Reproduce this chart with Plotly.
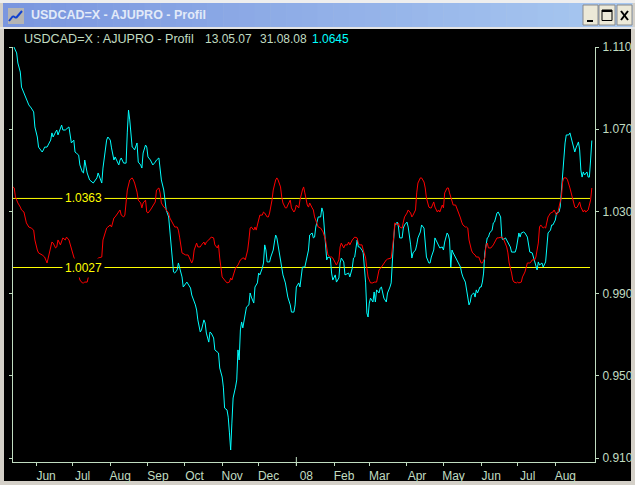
import plotly.graph_objects as go
import pandas as pd

# ---------------- data ----------------
START = pd.Timestamp("2007-05-13")

cyan_days = [0, 3, 4, 6, 7, 9, 10, 13, 15, 17, 18, 20, 21, 24, 25, 26, 28, 31, 32, 33, 35, 36, 37, 39, 40, 41, 43, 46, 47, 48,
             50, 51, 52, 54, 55, 57, 58, 59, 61, 63, 66, 69, 70, 72, 73, 74, 76, 77, 78, 80, 81, 83, 84, 85, 87, 88, 89, 91, 93, 94,
             95, 96, 98, 99, 100, 102, 103, 105, 106, 107, 109, 110, 111, 113, 115, 117, 118, 120, 121, 122, 124, 125, 126, 128, 129, 131, 132, 133, 135, 136,
             137, 139, 140, 143, 146, 147, 150, 151, 152, 154, 155, 157, 158, 159, 161, 162, 163, 165, 166, 169, 170, 172, 173, 174, 176, 177, 178, 179, 180, 181,
             183, 184, 185, 186, 187, 188, 189, 191, 192, 194, 195, 196, 198, 199, 201, 202, 203, 205, 206, 207, 208, 209, 211, 212, 214, 215, 216, 217, 218, 220,
             221, 222, 224, 225, 226, 228, 229, 231, 232, 233, 235, 236, 237, 238, 240, 242, 243, 244, 246, 247, 248, 249, 251, 253, 254, 255, 256, 257, 258, 259,
             261, 262, 263, 265, 266, 268, 269, 270, 272, 273, 275, 276, 277, 279, 280, 281, 283, 284, 285, 287, 288, 290, 291, 292, 293, 294, 296, 297, 298, 299,
             301, 302, 303, 304, 305, 307, 308, 310, 311, 313, 314, 316, 317, 318, 320, 321, 322, 324, 325, 327, 328, 329, 331, 332, 333, 335, 336, 338, 339, 340,
             342, 343, 344, 346, 347, 349, 350, 351, 353, 354, 355, 357, 358, 359, 360, 361, 362, 364, 365, 366, 368, 369, 370, 372, 373, 374, 375, 376, 377, 379,
             380, 381, 382, 384, 385, 386, 387, 388, 390, 391, 392, 394, 395, 396, 398, 399, 401, 402, 403, 405, 406, 407, 409, 410, 413, 414, 416, 417, 418, 420,
             421, 423, 424, 425, 427, 428, 429, 431, 432, 433, 435, 436, 438, 439, 440, 442, 443, 444, 446, 447, 449, 450, 451, 453, 454, 455, 457, 458, 459, 460,
             462, 463, 465, 466, 467, 468, 469, 470, 472, 473, 474, 475, 476]
cyan_vals = [1.1110, 1.1071, 1.1022, 1.0978, 1.0905, 1.0876, 1.0852, 1.0818, 1.0803, 1.0784, 1.0711, 1.0662, 1.0613, 1.0589, 1.0599, 1.0613, 1.0613, 1.0647, 1.0682, 1.0662,
             1.0686, 1.0696, 1.0672, 1.0706, 1.0720, 1.0696, 1.0696, 1.0711, 1.0662, 1.0633, 1.0647, 1.0589, 1.0584, 1.0574, 1.0526, 1.0492, 1.0487, 1.0550, 1.0487, 1.0453,
             1.0438, 1.0463, 1.0487, 1.0453, 1.0438, 1.0511, 1.0613, 1.0647, 1.0662, 1.0647, 1.0609, 1.0550, 1.0565, 1.0550, 1.0526, 1.0550, 1.0560, 1.0535, 1.0535, 1.0686,
             1.0793, 1.0745, 1.0613, 1.0609, 1.0599, 1.0633, 1.0540, 1.0526, 1.0511, 1.0584, 1.0623, 1.0613, 1.0565, 1.0550, 1.0526, 1.0540, 1.0550, 1.0560, 1.0487, 1.0453,
             1.0404, 1.0341, 1.0307, 1.0273, 1.0195, 1.0064, 1.0005, 1.0000, 1.0015, 1.0049, 1.0029, 0.9981, 0.9932, 0.9956, 0.9927, 0.9893, 0.9845, 0.9820, 0.9772, 0.9713,
             0.9723, 0.9772, 0.9757, 0.9708, 0.9664, 0.9713, 0.9708, 0.9684, 0.9626, 0.9611, 0.9538, 0.9494, 0.9445, 0.9343, 0.9334, 0.9299, 0.9222, 0.9139, 0.9270, 0.9392,
             0.9445, 0.9480, 0.9626, 0.9577, 0.9723, 0.9762, 0.9733, 0.9810, 0.9835, 0.9845, 0.9903, 0.9883, 0.9854, 0.9932, 0.9952, 1.0000, 0.9991, 1.0024, 1.0049, 1.0137,
             1.0112, 1.0054, 1.0054, 1.0078, 1.0112, 1.0151, 1.0185, 1.0171, 1.0137, 1.0064, 1.0029, 0.9991, 0.9952, 0.9908, 0.9883, 0.9845, 0.9810, 0.9810, 0.9845, 0.9932,
             0.9952, 0.9932, 0.9991, 1.0029, 1.0029, 1.0078, 1.0112, 1.0185, 1.0195, 1.0171, 1.0175, 1.0224, 1.0273, 1.0273, 1.0317, 1.0297, 1.0209, 1.0146, 1.0064, 1.0078,
             1.0073, 1.0000, 0.9966, 0.9991, 0.9956, 0.9976, 1.0049, 1.0073, 1.0054, 0.9991, 1.0000, 1.0000, 0.9981, 1.0024, 1.0073, 1.0078, 1.0161, 1.0127, 1.0127, 1.0112,
             1.0098, 0.9952, 0.9806, 0.9786, 0.9854, 0.9878, 0.9859, 0.9908, 0.9859, 0.9918, 0.9903, 0.9927, 0.9932, 0.9903, 0.9878, 0.9859, 0.9903, 0.9932, 0.9952, 1.0161,
             1.0234, 1.0248, 1.0224, 1.0171, 1.0171, 1.0219, 1.0234, 1.0248, 1.0224, 1.0137, 1.0073, 1.0098, 1.0112, 1.0137, 1.0171, 1.0200, 1.0234, 1.0219, 1.0146, 1.0078,
             1.0049, 1.0049, 1.0078, 1.0112, 1.0171, 1.0146, 1.0137, 1.0122, 1.0127, 1.0112, 1.0151, 1.0195, 1.0185, 1.0161, 1.0029, 1.0112, 1.0098, 1.0073, 1.0064, 1.0049,
             1.0029, 1.0000, 0.9981, 0.9956, 0.9918, 0.9869, 0.9845, 0.9859, 0.9893, 0.9903, 0.9883, 0.9918, 0.9903, 0.9932, 0.9932, 0.9956, 1.0000, 1.0098, 1.0171, 1.0175,
             1.0195, 1.0209, 1.0244, 1.0248, 1.0292, 1.0297, 1.0273, 1.0171, 1.0161, 1.0171, 1.0161, 1.0146, 1.0127, 1.0102, 1.0102, 1.0122, 1.0195, 1.0175, 1.0195, 1.0200,
             1.0195, 1.0175, 1.0146, 1.0102, 1.0098, 1.0078, 1.0064, 1.0015, 1.0054, 1.0039, 1.0049, 1.0029, 1.0054, 1.0146, 1.0195, 1.0209, 1.0234, 1.0234, 1.0258, 1.0292,
             1.0297, 1.0321, 1.0404, 1.0540, 1.0633, 1.0672, 1.0672, 1.0682, 1.0657, 1.0638, 1.0589, 1.0609, 1.0638, 1.0599, 1.0501, 1.0467, 1.0492, 1.0477, 1.0492, 1.0467,
             1.0467, 1.0550, 1.0645]

red_days = [0, 1, 2, 3, 4, 6, 7, 9, 10, 11, 13, 15, 17, 18, 20, 21, 24, 26, 28, 29, 30, 32, 33, 35, 36, 37, 39, 40, 41, 43,
            44, 46, 47, 48, 50, 51, 52, 54, 55, 57, 58, 59, 61, 62, 63, 66, 69, 70, 73, 74, 76, 77, 78, 80, 81, 83, 84, 85, 87, 88,
            89, 91, 92, 93, 94, 96, 98, 99, 100, 102, 103, 105, 106, 107, 109, 110, 111, 113, 114, 115, 117, 118, 120, 121, 122, 124, 125, 126, 128, 129,
            131, 132, 133, 135, 136, 137, 139, 142, 144, 147, 148, 149, 151, 152, 154, 155, 157, 158, 159, 161, 162, 163, 165, 166, 168, 169, 170, 171, 172, 174,
            175, 176, 178, 179, 180, 182, 183, 185, 186, 187, 189, 190, 191, 193, 194, 195, 196, 198, 199, 200, 202, 203, 205, 206, 207, 209, 210, 211, 213, 214,
            216, 217, 218, 220, 221, 222, 224, 225, 226, 228, 229, 231, 232, 233, 235, 236, 238, 239, 240, 242, 243, 244, 246, 247, 248, 250, 251, 253, 254, 255,
            257, 258, 259, 261, 262, 263, 265, 266, 268, 269, 270, 272, 273, 275, 276, 277, 279, 280, 281, 283, 284, 285, 287, 288, 290, 291, 292, 293, 294, 296,
            297, 299, 300, 301, 303, 304, 305, 307, 308, 310, 311, 313, 314, 316, 317, 318, 320, 321, 322, 324, 325, 327, 328, 329, 331, 332, 333, 335, 336, 338,
            339, 340, 342, 343, 344, 346, 347, 349, 350, 351, 353, 354, 355, 357, 358, 359, 361, 362, 364, 365, 366, 368, 369, 370, 372, 373, 374, 375, 377, 378,
            380, 381, 383, 384, 385, 386, 388, 389, 390, 391, 393, 395, 398, 399, 402, 403, 405, 406, 407, 408, 410, 411, 412, 414, 415, 416, 418, 419, 421, 422,
            423, 425, 426, 427, 429, 430, 432, 433, 434, 436, 437, 438, 440, 441, 442, 444, 445, 447, 448, 449, 451, 452, 453, 455, 456, 458, 459, 460, 462, 463,
            464, 466, 467, 469, 470, 471, 473, 474, 475, 476]
red_vals = [1.0419, 1.0414, 1.0370, 1.0355, 1.0341, 1.0321, 1.0307, 1.0297, 1.0273, 1.0244, 1.0224, 1.0219, 1.0209, 1.0161, 1.0112, 1.0098, 1.0088, 1.0078, 1.0049, 1.0073,
            1.0112, 1.0151, 1.0146, 1.0122, 1.0127, 1.0161, 1.0137, 1.0161, 1.0171, 1.0161, 1.0175, 1.0161, 1.0137, 1.0127, 1.0078, 1.0064, 1.0000, 0.9991, 0.9966, 0.9952,
            0.9952, 0.9956, 0.9956, 0.9981, 1.0064, 1.0064, 1.0064, 1.0073, 1.0078, 1.0161, 1.0195, 1.0219, 1.0224, 1.0234, 1.0224, 1.0268, 1.0273, 1.0282, 1.0297, 1.0307,
            1.0282, 1.0273, 1.0282, 1.0346, 1.0404, 1.0453, 1.0463, 1.0453, 1.0438, 1.0394, 1.0355, 1.0341, 1.0317, 1.0341, 1.0355, 1.0297, 1.0292, 1.0307, 1.0317, 1.0331,
            1.0346, 1.0404, 1.0414, 1.0390, 1.0341, 1.0321, 1.0317, 1.0307, 1.0292, 1.0268, 1.0244, 1.0234, 1.0224, 1.0224, 1.0209, 1.0175, 1.0098, 1.0088, 1.0088, 1.0049,
            1.0064, 1.0112, 1.0146, 1.0127, 1.0127, 1.0137, 1.0151, 1.0137, 1.0151, 1.0161, 1.0171, 1.0175, 1.0171, 1.0137, 1.0122, 1.0137, 1.0073, 1.0024, 0.9981, 0.9966,
            0.9956, 0.9952, 0.9956, 0.9976, 0.9966, 1.0005, 1.0024, 1.0039, 1.0054, 1.0064, 1.0073, 1.0073, 1.0064, 1.0112, 1.0161, 1.0219, 1.0224, 1.0209, 1.0224, 1.0209,
            1.0258, 1.0282, 1.0282, 1.0297, 1.0292, 1.0273, 1.0273, 1.0292, 1.0355, 1.0404, 1.0453, 1.0463, 1.0453, 1.0419, 1.0370, 1.0341, 1.0317, 1.0317, 1.0331, 1.0355,
            1.0317, 1.0297, 1.0307, 1.0331, 1.0317, 1.0355, 1.0404, 1.0419, 1.0390, 1.0331, 1.0321, 1.0341, 1.0317, 1.0307, 1.0273, 1.0234, 1.0224, 1.0219, 1.0209, 1.0200,
            1.0161, 1.0112, 1.0088, 1.0078, 1.0078, 1.0073, 1.0054, 1.0039, 1.0064, 1.0127, 1.0146, 1.0122, 1.0137, 1.0137, 1.0151, 1.0137, 1.0161, 1.0171, 1.0175, 1.0171,
            1.0146, 1.0137, 1.0137, 1.0112, 1.0073, 1.0024, 0.9981, 0.9966, 0.9952, 0.9952, 0.9956, 0.9956, 0.9991, 1.0015, 1.0029, 1.0039, 1.0049, 1.0064, 1.0068, 1.0073,
            1.0073, 1.0171, 1.0244, 1.0234, 1.0244, 1.0224, 1.0219, 1.0248, 1.0273, 1.0292, 1.0307, 1.0292, 1.0273, 1.0282, 1.0307, 1.0390, 1.0438, 1.0463, 1.0463, 1.0443,
            1.0414, 1.0365, 1.0321, 1.0317, 1.0317, 1.0346, 1.0321, 1.0297, 1.0307, 1.0297, 1.0331, 1.0317, 1.0390, 1.0414, 1.0414, 1.0390, 1.0341, 1.0331, 1.0331, 1.0317,
            1.0297, 1.0268, 1.0248, 1.0234, 1.0224, 1.0224, 1.0219, 1.0161, 1.0112, 1.0098, 1.0088, 1.0078, 1.0078, 1.0064, 1.0049, 1.0049, 1.0073, 1.0137, 1.0146, 1.0122,
            1.0122, 1.0137, 1.0171, 1.0171, 1.0175, 1.0171, 1.0146, 1.0127, 1.0098, 1.0049, 1.0000, 0.9966, 0.9956, 0.9952, 0.9956, 0.9952, 0.9956, 0.9981, 1.0005, 1.0029,
            1.0049, 1.0049, 1.0054, 1.0064, 1.0064, 1.0078, 1.0146, 1.0224, 1.0234, 1.0219, 1.0224, 1.0219, 1.0273, 1.0282, 1.0292, 1.0297, 1.0307, 1.0282, 1.0292, 1.0321,
            1.0370, 1.0443, 1.0463, 1.0463, 1.0453, 1.0414, 1.0390, 1.0365, 1.0321, 1.0317, 1.0321, 1.0346, 1.0321, 1.0297, 1.0307, 1.0297, 1.0307, 1.0331, 1.0355, 1.0414]

level_values = [1.0363, 1.0027]
level_labels = ["1.0363", "1.0027"]

month_ticks = ["2007-06-01", "2007-07-01", "2007-08-01", "2007-09-01", "2007-10-01", "2007-11-01", "2007-12-01",
               "2008-01-01", "2008-02-01", "2008-03-01", "2008-04-01", "2008-05-01", "2008-06-01", "2008-07-01", "2008-08-01"]
month_labels = ["Jun", "Jul", "Aug", "Sep", "Oct", "Nov", "Dec", "08", "Feb", "Mar", "Apr", "May", "Jun", "Jul", "Aug"]
year_tick = "2008-01-01"

y_ticks = [0.910, 0.950, 0.990, 1.030, 1.070, 1.110]
y_top = 1.110

window_title = "USDCAD=X - AJUPRO - Profil"
header_name = "USDCAD=X : AJUPRO - Profil"
date_from = "13.05.07"
date_to = "31.08.08"
last_value = "1.0645"

# ---------------- layout geometry ----------------
W, H = 635, 485
L, R, T, B = 13, 40, 47, 23
PW, PH = W - L - R, H - T - B
PX_PER_DAY = 1.216
PX_PER_UNIT = 2055.0

x0 = START
x1 = START + pd.Timedelta(days=PW / PX_PER_DAY)
y0 = y_top - PH / PX_PER_UNIT


def fx(px):
    return (px - L) / PW


def fy(py):
    return (T + PH - py) / PH


AX = "#c0dcc0"
FONT = "Liberation Sans"

cyan_x = [START + pd.Timedelta(days=d) for d in cyan_days]
red_x = [START + pd.Timedelta(days=d) for d in red_days]

fig = go.Figure()
fig.add_trace(go.Scatter(x=cyan_x, y=cyan_vals, mode="lines",
                         line=dict(color="#00ffff", width=1), hoverinfo="skip"))
fig.add_trace(go.Scatter(x=red_x, y=red_vals, mode="lines",
                         line=dict(color="#ff0000", width=1), hoverinfo="skip"))

shapes = []
# black chart area
shapes.append(dict(type="rect", xref="paper", yref="paper", x0=fx(4), x1=fx(631), y0=fy(481), y1=fy(29),
                   fillcolor="#000000", line=dict(width=0), layer="below"))
# top light border
shapes.append(dict(type="rect", xref="paper", yref="paper", x0=fx(0), x1=fx(635), y0=fy(3), y1=fy(0),
                   fillcolor="#eeeeee", line=dict(width=0), layer="below"))
# title bar gradient
c0 = (122, 150, 223)
c1 = (168, 200, 240)
N = 40
for i in range(N):
    t = i / (N - 1)
    col = "rgb(%d,%d,%d)" % tuple(round(c0[k] + (c1[k] - c0[k]) * t) for k in range(3))
    xa = 3 + (632 - 3) * i / N
    xb = 3 + (632 - 3) * (i + 1) / N + 0.5
    shapes.append(dict(type="rect", xref="paper", yref="paper", x0=fx(xa), x1=fx(xb), y0=fy(27), y1=fy(3),
                       fillcolor=col, line=dict(width=0), layer="below"))
shapes.append(dict(type="rect", xref="paper", yref="paper", x0=fx(0), x1=fx(635), y0=fy(29), y1=fy(27),
                   fillcolor="#e4e4e4", line=dict(width=0), layer="below"))
# icon
shapes.append(dict(type="rect", xref="paper", yref="paper", x0=fx(8), x1=fx(24), y0=fy(24), y1=fy(8),
                   fillcolor="#b4b4b4", line=dict(width=0), layer="below"))
icon_pts = [(9, 21), (13, 16), (16, 18), (22, 11)]
for (ax_, ay_), (bx_, by_) in zip(icon_pts[:-1], icon_pts[1:]):
    shapes.append(dict(type="line", xref="paper", yref="paper", x0=fx(ax_), y0=fy(ay_), x1=fx(bx_), y1=fy(by_),
                       line=dict(color="#1040d0", width=2), layer="below"))
# window buttons
for bx0, bx1 in [(583, 598), (599, 615), (617, 632)]:
    shapes.append(dict(type="rect", xref="paper", yref="paper", x0=fx(bx0), x1=fx(bx1), y0=fy(25), y1=fy(5),
                       fillcolor="#ece9d8", line=dict(color="#8a8a8a", width=1), layer="below"))
shapes.append(dict(type="line", xref="paper", yref="paper", x0=fx(587), x1=fx(593), y0=fy(21), y1=fy(21),
                   line=dict(color="#000000", width=2), layer="below"))
shapes.append(dict(type="rect", xref="paper", yref="paper", x0=fx(602), x1=fx(612), y0=fy(20.5), y1=fy(10),
                   line=dict(color="#000000", width=1), layer="below"))
shapes.append(dict(type="line", xref="paper", yref="paper", x0=fx(602), x1=fx(612), y0=fy(11), y1=fy(11),
                   line=dict(color="#000000", width=2), layer="below"))
shapes.append(dict(type="line", xref="paper", yref="paper", x0=fx(621), x1=fx(628), y0=fy(11), y1=fy(20),
                   line=dict(color="#000000", width=2), layer="below"))
shapes.append(dict(type="line", xref="paper", yref="paper", x0=fx(628), x1=fx(621), y0=fy(11), y1=fy(20),
                   line=dict(color="#000000", width=2), layer="below"))
# level lines
for v in level_values:
    shapes.append(dict(type="line", xref="paper", yref="y", x0=fx(12), x1=fx(590), y0=v, y1=v,
                       line=dict(color="#ffff00", width=1), layer="below"))
# long year tick
shapes.append(dict(type="line", xref="x", yref="paper", x0=year_tick, x1=year_tick, y0=fy(466), y1=fy(457),
                   line=dict(color=AX, width=1)))

annotations = []
annotations.append(dict(xref="paper", yref="paper", x=fx(29), y=fy(15), xanchor="left", yanchor="middle",
                        text="<b>%s</b>" % window_title, showarrow=False,
                        font=dict(family=FONT, size=12.5, color="#e2eaf8")))
hy = fy(39)
for txt, px, col, sz in [(header_name, 22, AX, 12.6), (date_from, 203, AX, 12), (date_to, 258, AX, 12),
                         (last_value, 310, "#00ffff", 12)]:
    annotations.append(dict(xref="paper", yref="paper", x=fx(px), y=hy, xanchor="left", yanchor="middle",
                            text=txt, showarrow=False, font=dict(family=FONT, size=sz, color=col)))
for v, lab in zip(level_values, level_labels):
    annotations.append(dict(xref="paper", yref="y", x=fx(83.5), y=v, xanchor="center", yanchor="middle",
                            text=lab, showarrow=False, bgcolor="#000000", borderpad=2,
                            font=dict(family=FONT, size=12, color="#ffff00")))

fig.update_layout(
    width=W, height=H,
    margin=dict(l=L, r=R, t=T, b=B, pad=0, autoexpand=False),
    paper_bgcolor="#d4d0c8", plot_bgcolor="#000000",
    showlegend=False,
    shapes=shapes, annotations=annotations,
    xaxis=dict(type="date", range=[x0, x1], showgrid=False, zeroline=False, automargin=False,
               showline=True, linecolor=AX, linewidth=1,
               ticks="outside", ticklen=3, tickcolor=AX, tickwidth=1,
               tickvals=month_ticks, ticktext=month_labels, ticklabelshift=10,
               tickfont=dict(family=FONT, size=12, color=AX)),
    yaxis=dict(range=[y0, y_top], side="right", showgrid=False, zeroline=False, automargin=False,
               showline=True, linecolor=AX, linewidth=1, mirror="ticks",
               ticks="outside", ticklen=3, tickcolor=AX, tickwidth=1,
               tickvals=y_ticks, ticktext=["%.3f" % v for v in y_ticks],
               ticklabelstandoff=1,
               tickfont=dict(family=FONT, size=12, color=AX)),
)

fig.write_html("out.html")
